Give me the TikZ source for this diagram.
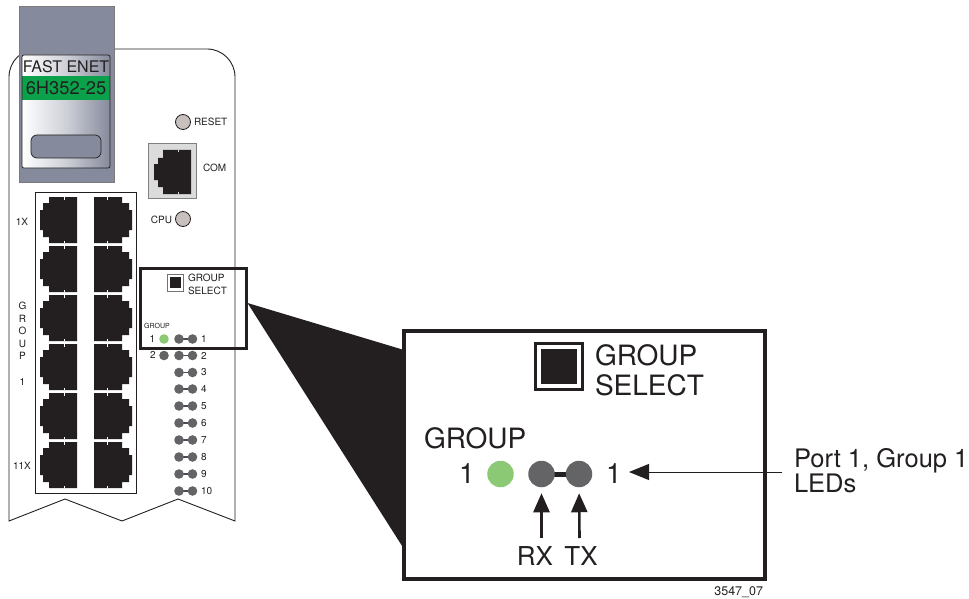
\documentclass[tikz,border=0pt]{standalone}
\usepackage{fontspec}
\setmainfont{TeX Gyre Heros}
\usetikzlibrary{arrows.meta}
\definecolor{modgray}{HTML}{858A9C}
\definecolor{ledgray}{HTML}{646466}
\definecolor{ledgreen}{HTML}{8BC975}
\definecolor{enetgreen}{HTML}{0BA14B}
\definecolor{ink}{HTML}{231F20}
\definecolor{btn}{HTML}{C8C0BC}
\newcommand{\fs}[1]{\fontsize{#1}{#1}\selectfont}
\tikzset{
  lbl/.style={inner sep=0pt,outer sep=0pt,text=ink,font=\fs{10}},
  led/.style={circle,inner sep=0pt,outer sep=0pt,minimum size=9.6pt,fill=ledgray},
  bigled/.style={circle,inner sep=0pt,outer sep=0pt,minimum size=26.5pt,fill=ledgray},
  big/.style={inner sep=0pt,outer sep=0pt,text=ink,font=\fs{28}},
  btnc/.style={circle,inner sep=0pt,minimum size=15pt,fill=btn,draw=ink,line width=.8pt},
}
\newcommand{\portL}[2]{%
 \fill[ink] (#1+9,#2) -- (#1+37,#2) -- (#1+37,#2+46) -- (#1+9,#2+46) -- (#1+9,#2+40) -- (#1+3,#2+40) -- (#1+3,#2+33) -- (#1,#2+33) -- (#1,#2+13) -- (#1+3,#2+13) -- (#1+3,#2+6) -- (#1+9,#2+6) -- cycle;
 \draw[white,line width=.8pt] (#1+24.5,#2) -- ++(0,2.5) (#1+24.5,#2+46) -- ++(0,-2.5);}
\newcommand{\portR}[2]{%
 \fill[ink] (#1,#2) -- (#1+28,#2) -- (#1+28,#2+6) -- (#1+35,#2+6) -- (#1+35,#2+13) -- (#1+38,#2+13) -- (#1+38,#2+33) -- (#1+35,#2+33) -- (#1+35,#2+40) -- (#1+28,#2+40) -- (#1+28,#2+46) -- (#1,#2+46) -- cycle;
 \draw[white,line width=.8pt] (#1+13,#2) -- ++(0,2.5) (#1+13,#2+46) -- ++(0,-2.5);}
\begin{document}
\begin{tikzpicture}[x=1pt,y=-1pt]
\useasboundingbox (0,0) rectangle (969,599);
\fill[white] (0,0) rectangle (969,599);
% panel
\draw[ink,line width=.9pt] (9,521) -- (9,77) .. controls (9,61.5) and (21.5,49) .. (37,49) -- (207,49) .. controls (222.5,49) and (235,61.5) .. (235,77) -- (235,521) -- (178,499) -- (122,521) -- (65,499) -- cycle;
% module
\fill[modgray,draw=ink!60,line width=.6pt] (19,6) rectangle (114,182);
\begin{scope}
\clip[rounded corners=2pt] (22,55) rectangle (110,168);
\shade[left color=white,right color=modgray,middle color=white!60!modgray] (22,55) rectangle (110,168);
\end{scope}
\fill[enetgreen] (22,76) rectangle (110,100);
\draw[ink,line width=.7pt,rounded corners=2pt] (22,55) rectangle (110,168);
\fill[modgray,draw=ink,line width=.7pt,rounded corners=6pt] (31,135) rectangle (101,158);
\node[inner sep=0pt,text=ink,font=\fs{16}] (fast) at (66,66.5) {FAST ENET};
\node[inner sep=0pt,text=ink,font=\fs{18.3}] (model) at (66,88) {6H352-25};
% reset, com, cpu
\node[btnc] (reset) at (183,122) {};
\node[lbl,anchor=west] (resetl) at (194,122) {RESET};
\fill[black!14,draw=black!50,line width=.8pt] (148.5,143) rectangle (196.5,198);
\fill[ink] (163,150) -- (191,150) -- (191,194) -- (163,194) -- (163,187) -- (158,187) -- (158,180) -- (154,180) -- (154,164) -- (158,164) -- (158,158) -- (163,158) -- cycle;
\draw[black!14,line width=.8pt] (178,150) -- ++(0,2.5) (178,194) -- ++(0,-2.5);
\node[lbl,anchor=west] (coml) at (203,168) {COM};
\node[btnc] (cpu) at (183,219) {};
\node[lbl,anchor=east] (cpul) at (172,220) {CPU};
% ports
\draw[ink,line width=.9pt] (35,192.5) rectangle (136,493);
\foreach \y in {197,246,295,344,393,442} {\portL{40}{\y}\portR{94}{\y}}
\node[lbl] (p1x) at (22,221.5) {1X};
\node[lbl] (p11x) at (22,466) {11X};
\node[lbl] (vg) at (22.5,306) {G};
\node[lbl] (vr) at (22.5,319) {R};
\node[lbl] (vo) at (22.5,331) {O};
\node[lbl] (vu) at (22.5,344) {U};
\node[lbl] (vp) at (22.5,356) {P};
\node[lbl] (vone) at (22.5,382) {1};
% leds
\node[lbl,font=\fs{7}] (sg) at (157,326) {GROUP};
\node[lbl] (sone) at (152.5,338.5) {1};
\node[led,fill=ledgreen] (sgreen) at (164,339) {};
\node[lbl] (stwo) at (153,355) {2};
\node[led] (sgray) at (164,355.5) {};
\foreach \n/\y in {1/339,2/355.5,3/372.5,4/389,5/406,6/423,7/440,8/457,9/474,10/491} {
  \draw[black!45!modgray,line width=1.4pt] (179,\y) -- (192.5,\y);
  \node[led] (rx\n) at (179,\y) {};
  \node[led] (tx\n) at (192.5,\y) {};
  \node[lbl,anchor=west] (num\n) at (201,\y) {\n};
}
% wedge
\fill[ink] (247.5,303) -- (404,350) -- (404,549) -- cycle;
% small select box
\fill[white,draw=black!55,line width=.8pt] (167,274) rectangle (183.5,291);
\fill[ink] (170,277) rectangle (180.5,288);
\node[lbl,anchor=west] (sg1) at (188,278) {GROUP};
\node[lbl,anchor=west] (sg2) at (188,291) {SELECT};
\draw[ink,line width=3pt] (140,268.5) rectangle (246.5,348.5);
% big box
\draw[ink,line width=3.4pt] (404,331) rectangle (765,579);
\fill[white,draw=ink,line width=3pt] (535.5,343) rectangle (582.5,389.5);
\fill[ink] (541,349) rectangle (576.5,383.5);
\node[big,anchor=base west] (bg1) at (595,365) {GROUP};
\node[big,anchor=base west] (bg2) at (595,395) {SELECT};
\node[big,anchor=base west] (bg3) at (424,448) {GROUP};
\node[big,anchor=base] (bone) at (467,483) {1};
\node[bigled,fill=ledgreen] (bgreen) at (500.5,474) {};
\draw[ink,line width=5pt] (541.5,474) -- (579,474);
\node[bigled] (brx) at (541.5,474) {};
\node[bigled] (btx) at (579,474) {};
\node[big,anchor=base] (btwo) at (614,483) {1};
\node[big,font=\fs{26},anchor=base] (rxl) at (535,565) {RX};
\node[big,font=\fs{26},anchor=base] (txl) at (581,565) {TX};
\coordinate (rxe) at (541.5,538);
\coordinate (txe) at (579.5,538);
\draw[ink,line width=2.6pt,shorten >=6pt,-{Triangle[length=19pt,width=16pt]}] (rxe) -- (brx);
\draw[ink,line width=2.6pt,shorten >=6pt,-{Triangle[length=19pt,width=16pt]}] (txe) -- (btx);
\coordinate (ple) at (782,472);
\coordinate (plt) at (629,472);
\draw[ink,line width=1pt,-{Triangle[length=20pt,width=16pt]}] (ple) -- (plt);
\node[big,font=\fs{25.5},anchor=base west] (port) at (794,467.5) {Port 1, Group 1};
\node[big,font=\fs{25.5},anchor=base west] (leds) at (794,492) {LEDs};
\node[big,font=\fs{12.5},anchor=base east] (code) at (763,595) {3547\_07};
\end{tikzpicture}
\end{document}
